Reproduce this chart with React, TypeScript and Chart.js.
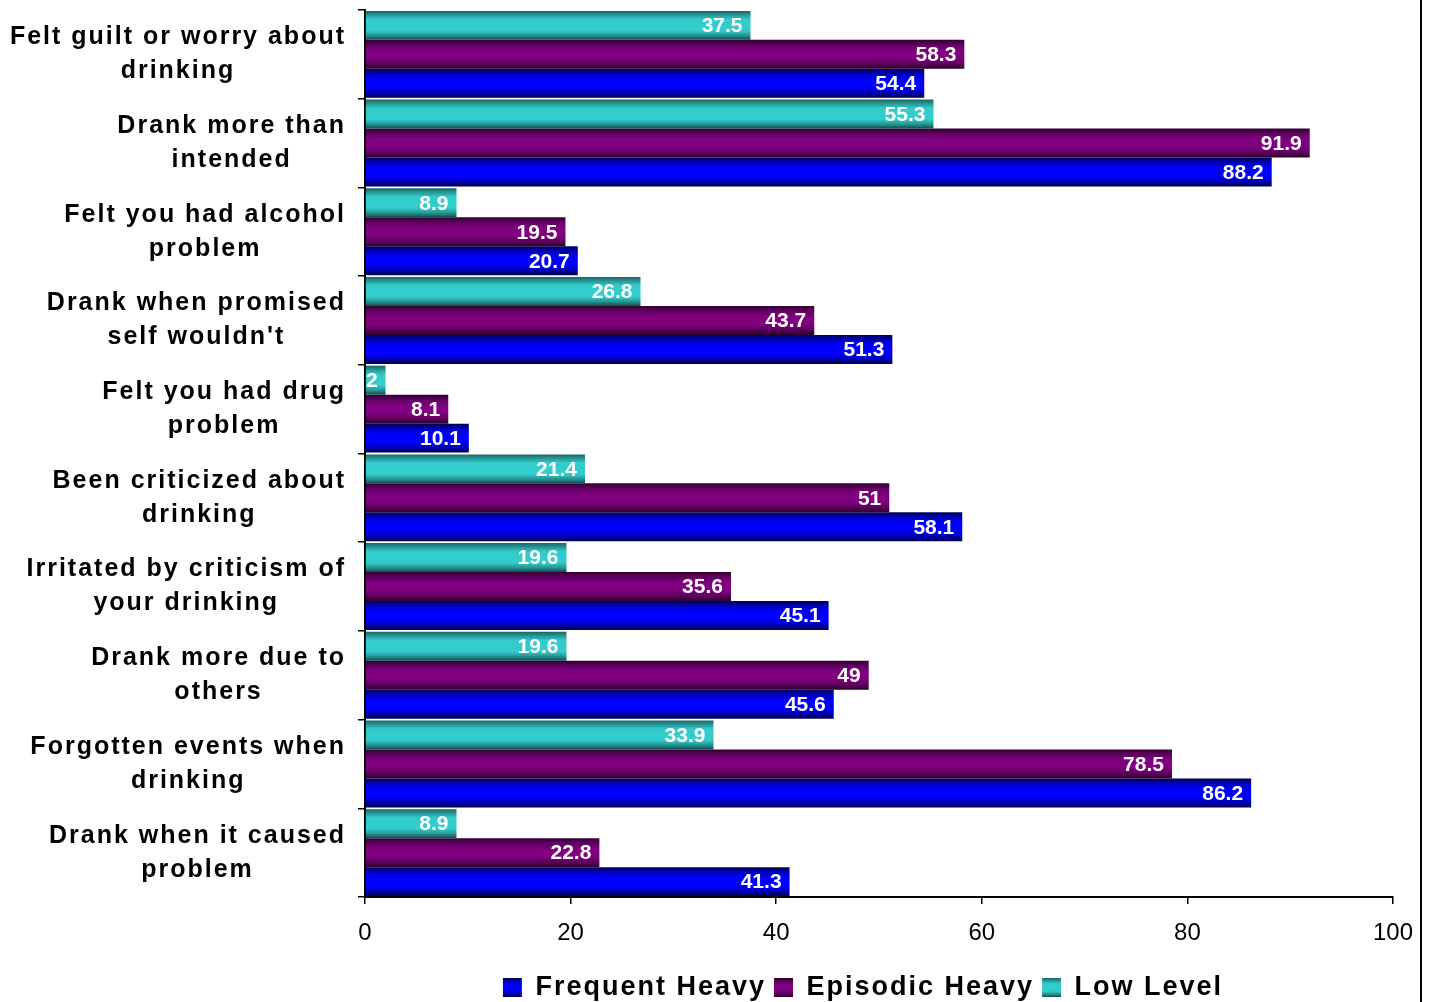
import React, { useEffect, useRef } from "react";
import { Chart, registerables } from "chart.js";

Chart.register(...registerables);

const categories: string[][] = [
  ["Felt guilt or worry about", "drinking"],
  ["Drank more than", "intended"],
  ["Felt you had alcohol", "problem"],
  ["Drank when promised", "self wouldn't"],
  ["Felt you had drug", "problem"],
  ["Been criticized about", "drinking"],
  ["Irritated by criticism of", "your drinking"],
  ["Drank more due to", "others"],
  ["Forgotten events when", "drinking"],
  ["Drank when it caused", "problem"],
];

const lowLevel = [37.5, 55.3, 8.9, 26.8, 2, 21.4, 19.6, 19.6, 33.9, 8.9];
const episodicHeavy = [58.3, 91.9, 19.5, 43.7, 8.1, 51, 35.6, 49, 78.5, 22.8];
const frequentHeavy = [54.4, 88.2, 20.7, 51.3, 10.1, 58.1, 45.1, 45.6, 86.2, 41.3];

const xTicks = [0, 20, 40, 60, 80, 100];

const FONT = "'Liberation Sans', Arial, Helvetica, sans-serif";

const gradientStops: [number, string][][] = [
  [
    [0, "#1a6464"],
    [0.15, "#279a9a"],
    [0.3, "#33cccc"],
    [0.68, "#33cccc"],
    [0.85, "#269494"],
    [1, "#134c4c"],
  ],
  [
    [0, "#330033"],
    [0.2, "#660066"],
    [0.38, "#800080"],
    [0.62, "#800080"],
    [0.82, "#600060"],
    [1, "#2a002a"],
  ],
  [
    [0, "#00005a"],
    [0.2, "#0000c8"],
    [0.38, "#0000ff"],
    [0.65, "#0000ff"],
    [0.85, "#0000a8"],
    [1, "#000048"],
  ],
];

function makeGradient(ctx: CanvasRenderingContext2D, di: number, top: number, bottom: number) {
  const g = ctx.createLinearGradient(0, top, 0, bottom);
  gradientStops[di].forEach(([o, c]) => g.addColorStop(o, c));
  return g;
}

const gradientPlugin = {
  id: "barGradient",
  beforeDatasetsDraw(chart: any) {
    const ctx = chart.ctx;
    chart.data.datasets.forEach((_ds: any, di: number) => {
      const meta = chart.getDatasetMeta(di);
      meta.data.forEach((el: any) => {
        const top = el.y - el.height / 2;
        const bottom = el.y + el.height / 2;
        el.options = { ...el.options, backgroundColor: makeGradient(ctx, di, top, bottom) };
      });
    });
  },
};

const valueLabelPlugin = {
  id: "valueLabels",
  afterDatasetsDraw(chart: any) {
    const ctx = chart.ctx;
    ctx.save();
    ctx.font = `bold 21px ${FONT}`;
    ctx.fillStyle = "#ffffff";
    ctx.textAlign = "right";
    ctx.textBaseline = "middle";
    chart.data.datasets.forEach((ds: any, di: number) => {
      const meta = chart.getDatasetMeta(di);
      meta.data.forEach((el: any, i: number) => {
        ctx.fillText(String(ds.data[i]), el.x - 8, el.y + 1);
      });
    });
    ctx.restore();
  },
};

// Category labels: block right-aligned next to the axis, lines centred within the block
const categoryLabelPlugin = {
  id: "categoryLabels",
  afterDraw(chart: any) {
    const ctx = chart.ctx;
    const scale = chart.scales.y;
    const lineH = 34;
    const right = 345;
    ctx.save();
    ctx.font = `bold 25px ${FONT}`;
    (ctx as any).letterSpacing = "2px";
    ctx.fillStyle = "#000";
    ctx.textAlign = "center";
    ctx.textBaseline = "middle";
    (chart.data.labels as string[][]).forEach((lines, i) => {
      const y = scale.getPixelForTick(i);
      const maxW = Math.max(...lines.map((l) => ctx.measureText(l).width));
      const cx = right - maxW / 2;
      lines.forEach((line, j) => {
        ctx.fillText(line, cx + 1, y + (j - (lines.length - 1) / 2) * lineH);
      });
    });
    ctx.restore();
  },
};

const legendTweakPlugin = {
  id: "legendTweak",
  beforeUpdate(chart: any) {
    const legend = chart.legend;
    if (legend && !legend.__patched) {
      legend.__patched = true;
      const origFit = legend.fit.bind(legend);
      const origDraw = legend.draw.bind(legend);
      legend.fit = (...a: any[]) => {
        const ctx = chart.ctx;
        const prev = ctx.letterSpacing;
        ctx.letterSpacing = "2px";
        const r = origFit(...a);
        ctx.letterSpacing = prev || "0px";
        return r;
      };
      legend.draw = (...a: any[]) => {
        const ctx = chart.ctx;
        ctx.save();
        ctx.letterSpacing = "2px";
        const r = origDraw(...a);
        ctx.restore();
        return r;
      };
    }
  },
  afterLayout(chart: any) {
    const legend = chart.legend;
    if (!legend) return;
    legend.left -= 16;
    legend.right -= 16;
    legend.top += 9;
    legend.bottom += 9;
  },
  afterUpdate(chart: any) {
    const legend = chart.legend;
    if (!legend || !legend.legendItems) return;
    const ctx = chart.ctx;
    const pad = legend.options.labels.padding;
    const top = legend.top + pad + 4;
    const bottom = top + 19;
    legend.legendItems.forEach((item: any) => {
      item.fillStyle = makeGradient(ctx, item.datasetIndex, top, bottom);
    });
  },
};

const framePlugin = {
  id: "frame",
  afterDraw(chart: any) {
    const ctx = chart.ctx;
    ctx.save();
    ctx.strokeStyle = "#000";
    ctx.lineWidth = 2;
    ctx.beginPath();
    ctx.moveTo(1421, 0);
    ctx.lineTo(1421, chart.height);
    ctx.stroke();
    ctx.restore();
  },
};

export default function App() {
  const ref = useRef<HTMLCanvasElement>(null);

  useEffect(() => {
    if (!ref.current) return;
    Chart.defaults.font.family = FONT;
    const chart = new Chart(ref.current, {
      type: "bar",
      data: {
        labels: categories,
        datasets: [
          { label: "Low Level", data: lowLevel, backgroundColor: "#33cccc", borderWidth: 0 },
          { label: "Episodic Heavy", data: episodicHeavy, backgroundColor: "#800080", borderWidth: 0 },
          { label: "Frequent Heavy", data: frequentHeavy, backgroundColor: "#0000ff", borderWidth: 0 },
        ],
      },
      options: {
        indexAxis: "y",
        animation: false,
        responsive: true,
        maintainAspectRatio: false,
        datasets: {
          bar: { categoryPercentage: 0.98, barPercentage: 1 },
        },
        layout: { padding: { top: 10, right: 41, left: 0, bottom: 0 } },
        scales: {
          x: {
            min: 0,
            max: 100,
            afterBuildTicks(scale: any) {
              scale.ticks = xTicks.map((v) => ({ value: v }));
            },
            afterFit(scale: any) {
              scale.height = 60;
            },
            ticks: {
              color: "#000",
              font: { size: 24 },
              padding: 15,
              maxRotation: 0,
            },
            grid: {
              drawOnChartArea: false,
              drawTicks: true,
              tickLength: 7,
              color: "#000",
              lineWidth: 1.5,
            },
            border: { color: "#000", width: 2 },
          },
          y: {
            afterFit(scale: any) {
              scale.width = 365;
              scale.paddingTop = 0;
              scale.paddingBottom = 0;
            },
            ticks: {
              display: false,
            },
            grid: {
              drawOnChartArea: false,
              drawTicks: true,
              tickLength: 7,
              color: "#000",
              lineWidth: 1.5,
              offset: true,
            },
            border: { color: "#000", width: 2 },
          },
        },
        plugins: {
          legend: {
            position: "bottom",
            fullSize: false,
            reverse: true,
            labels: {
              color: "#000",
              font: { size: 27, weight: "bold" },
              boxWidth: 19,
              boxHeight: 19,
              padding: 8,
            },
          },
          tooltip: { enabled: false },
        },
      },
      plugins: [legendTweakPlugin, gradientPlugin, valueLabelPlugin, categoryLabelPlugin, framePlugin],
    } as any);
    return () => chart.destroy();
  }, []);

  return (
    <div style={{ position: "absolute", left: 0, top: 0, width: 1434, height: 1002, background: "#fff" }}>
      <canvas ref={ref} />
    </div>
  );
}
